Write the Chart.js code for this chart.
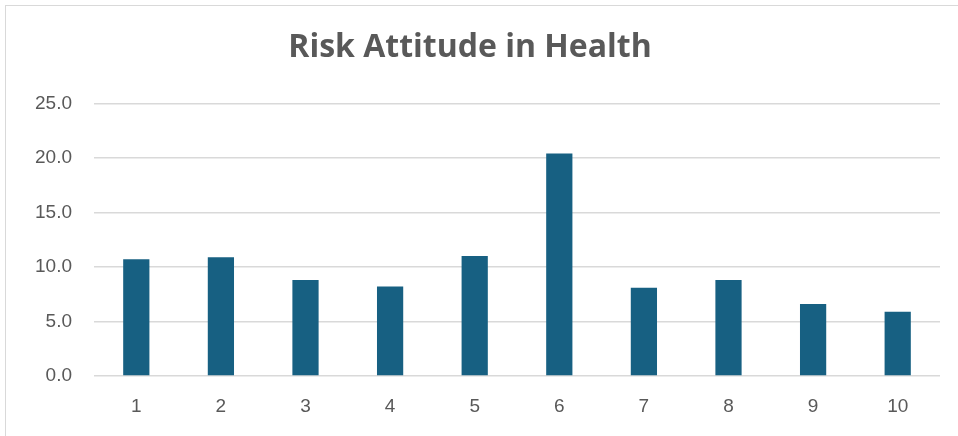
<!DOCTYPE html>
<html>
<head>
<meta charset="utf-8">
<script src="https://cdn.jsdelivr.net/npm/chart.js@4/dist/chart.umd.min.js"></script>
<style>
  body { margin: 0; background: #fff; }
  #frame {
    position: absolute; left: 5px; top: 5px;
    width: 1000px; height: 500px;
    border: 1px solid #d9d9d9;
  }
  #wrap { position: absolute; left: 0; top: 0; width: 958px; height: 436px; }
</style>
</head>
<body>
<div id="frame"></div>
<div id="wrap"><canvas id="riskChart"></canvas></div>
<script>
// chart data
const categories = ["1", "2", "3", "4", "5", "6", "7", "8", "9", "10"];
const riskValues = [10.7, 10.9, 8.8, 8.2, 11.0, 20.4, 8.1, 8.8, 6.6, 5.9];
const yTicks = [0, 5, 10, 15, 20, 25];

const textGray = "#595959";
const gridGray = "#d9d9d9";

var ctx = document.getElementById("riskChart").getContext("2d");
var myChart = new Chart(ctx, {
  type: "bar",
  data: {
    labels: categories,
    datasets: [
      {
        label: "Risk Attitude in Health",
        data: riskValues,
        backgroundColor: "#176082",
        borderWidth: 0,
        barPercentage: 0.31,
        categoryPercentage: 1,
      },
    ],
  },
  options: {
    responsive: true,
    maintainAspectRatio: false,
    animation: false,
    layout: {
      padding: { left: 0, right: 18, top: 0, bottom: 0 },
    },
    plugins: {
      legend: { display: false },
      tooltip: { enabled: false },
      title: {
        display: true,
        text: "Risk Attitude in Health",
        color: textGray,
        font: { family: "'Open Sans', 'Liberation Sans', sans-serif", size: 32, weight: "bold" },
        padding: { top: 29, bottom: 36 },
      },
    },
    scales: {
      x: {
        grid: { display: false, drawTicks: false },
        border: { display: false },
        ticks: {
          color: textGray,
          font: { family: "'Liberation Sans', Arial, sans-serif", size: 19 },
          padding: 19,
        },
        afterFit: (scale) => {
          scale.height = 60;
        },
      },
      y: {
        min: 0,
        max: 25,
        afterBuildTicks: (scale) => {
          scale.ticks = yTicks.map((v) => ({ value: v }));
        },
        grid: { color: gridGray, lineWidth: 1.5, drawTicks: false },
        border: { display: false },
        ticks: {
          color: textGray,
          font: { family: "'Liberation Sans', Arial, sans-serif", size: 19 },
          padding: 22,
          callback: (v) => Number(v).toFixed(1),
        },
        afterFit: (scale) => {
          scale.width = 94;
        },
      },
    },
  },
});
</script>
</body>
</html>
